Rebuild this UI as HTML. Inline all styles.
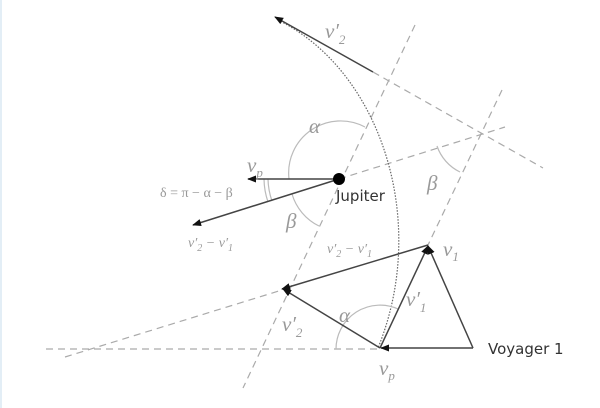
<!DOCTYPE html>
<html><head><meta charset="utf-8"><style>
html,body{margin:0;padding:0;background:#fff}
svg{display:block}
.m{font-family:"Liberation Serif",serif;font-style:italic;fill:#999}
</style></head><body>
<svg width="600" height="408" viewBox="0 0 600 408" xmlns="http://www.w3.org/2000/svg">
<defs>
<marker id="a" viewBox="0 0 10 10" refX="9" refY="5" markerWidth="9" markerHeight="9" markerUnits="userSpaceOnUse" orient="auto"><path d="M0,1 L10,5 L0,9 Z" fill="#111"/></marker>
</defs>
<rect x="0" y="0" width="2" height="408" fill="#e3eef6"/>
<g stroke="#aaa" stroke-width="1.2" stroke-dasharray="7,5" fill="none">
<line x1="46" y1="349" x2="380" y2="349"/>
<line x1="65" y1="357" x2="282" y2="290"/>
<line x1="415" y1="25" x2="243" y2="388"/>
<line x1="339" y1="179" x2="505" y2="127"/>
<line x1="502" y1="90" x2="428" y2="245"/>
<line x1="373" y1="72" x2="543" y2="168"/>
</g>
<path d="M278,20 C380,70 430,220 378,348" stroke="#666" stroke-width="1.2" stroke-dasharray="1.5,1.5" fill="none"/>
<g stroke="#bbb" stroke-width="1.2" fill="none">
<path d="M365,127 A52,52 0 0 0 289,179"/>
<path d="M319,226 A52,52 0 0 1 292,194"/>
<path d="M437,146 A45,45 0 0 0 460,172"/>
<path d="M336,349 A44,44 0 0 1 398,309"/>
<path d="M268,179 A71,71 0 0 0 272,201"/>
<path d="M264,179 A75,75 0 0 0 268,202"/>
</g>
<g stroke="#444" stroke-width="1.5" fill="none" marker-end="url(#a)">
<line x1="373" y1="72" x2="275" y2="17"/>
<line x1="339" y1="179" x2="248" y2="179"/>
<line x1="339" y1="179" x2="193" y2="225"/>
<line x1="428" y1="245" x2="282" y2="289"/>
<line x1="380" y1="348" x2="283" y2="289"/>
<line x1="380" y1="348" x2="428" y2="246"/>
<line x1="473" y1="348" x2="428" y2="246"/>
<line x1="473" y1="348" x2="381" y2="348"/>
</g>
<circle cx="339" cy="179" r="6" fill="#000"/>
<text x="336" y="201" font-family="DejaVu Sans,sans-serif" font-size="15" fill="#333">Jupiter</text>
<text x="488" y="354" font-family="DejaVu Sans,sans-serif" font-size="15" fill="#333">Voyager 1</text>
<g class="m" font-size="21">
<text x="325" y="38">v′<tspan font-size="13" dy="6">2</tspan></text>
<text x="309" y="133">α</text>
<text x="247" y="172">v<tspan font-size="13" dy="5">p</tspan></text>
<text x="286" y="228">β</text>
<text x="427" y="190">β</text>
<text x="443" y="256">v<tspan font-size="13" dy="5">1</tspan></text>
<text x="406" y="306">v′<tspan font-size="13" dy="6">1</tspan></text>
<text x="282" y="331">v′<tspan font-size="13" dy="6">2</tspan></text>
<text x="339" y="322">α</text>
<text x="379" y="375">v<tspan font-size="13" dy="5">p</tspan></text>
</g>
<g class="m" font-size="14">
<text x="160" y="197" font-style="normal">δ = π − α − β</text>
<text x="188" y="247">v′<tspan font-size="10" dy="4">2</tspan><tspan dy="-4"> − v′</tspan><tspan font-size="10" dy="4">1</tspan></text>
<text x="327" y="253">v′<tspan font-size="10" dy="4">2</tspan><tspan dy="-4"> − v′</tspan><tspan font-size="10" dy="4">1</tspan></text>
</g>
</svg>
</body></html>
